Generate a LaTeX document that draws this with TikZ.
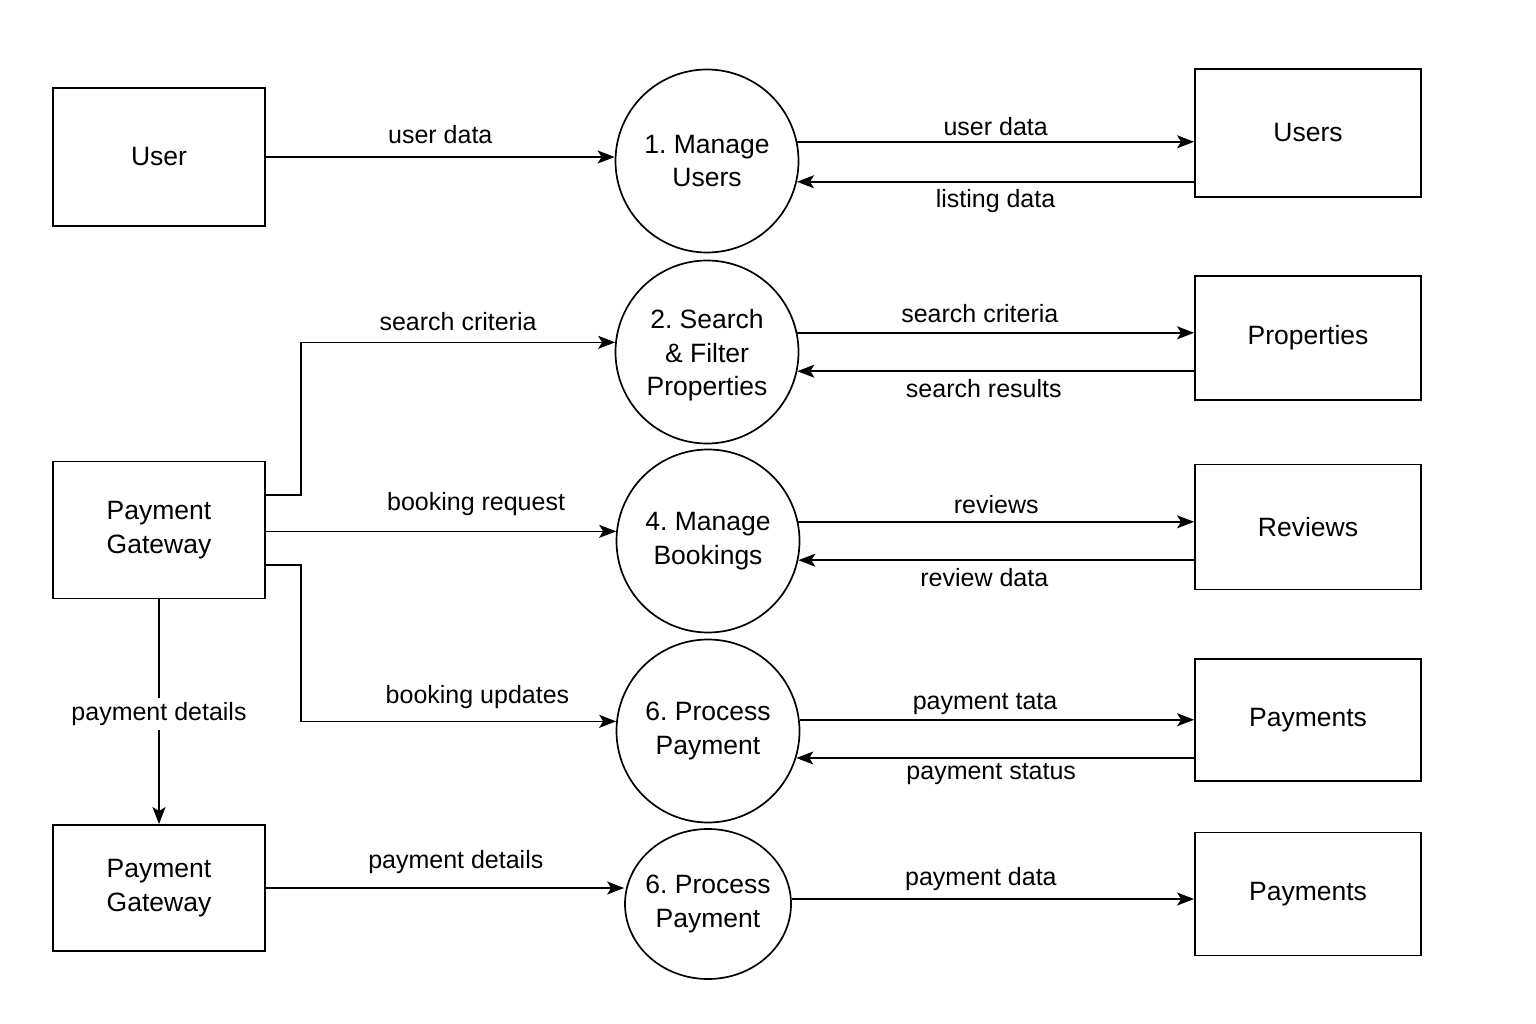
\documentclass[tikz,border=0pt]{standalone}
\usepackage{fontspec}
\setmainfont{Liberation Sans}
\frenchspacing
\usetikzlibrary{arrows.meta,calc,shapes.geometric}
\tikzset{
  box/.style={draw, line width=1.9pt, minimum width=#1, inner sep=0pt, align=center, font=\fontsize{26.5}{33.5}\selectfont},
  proc/.style={draw, circle, line width=1.7pt, minimum size=183pt, inner sep=0pt, align=center, font=\fontsize{26.5}{33.5}\selectfont},
  ell/.style={draw, ellipse, line width=1.7pt, minimum width=166pt, minimum height=150pt, inner sep=0pt},
  arr/.style={line width=1.5pt, -{Stealth[length=17pt,width=13pt,inset=4pt]}},
  lbl/.style={font=\fontsize{25}{30}\selectfont, inner sep=1pt}
}
\begin{document}
\begin{tikzpicture}[x=1pt,y=-1pt]
\useasboundingbox (0,0) rectangle (1536,1024);
% left boxes
\node[box=212pt, minimum height=138pt] (user) at (159,157) {User};
\node[box=212pt, minimum height=137pt] (pg1) at (159,530) {Payment\\Gateway};
\node[box=212pt, minimum height=126pt] (pg2) at (159,888) {Payment\\Gateway};
% processes
\node[proc] (c1) at (707,161) {1. Manage\\Users};
\node[proc] (c2) at (707,352) {\\[-8pt]2. Search\\\& Filter\\Properties};
\node[proc] (c4) at (708,541) {4. Manage\\Bookings};
\node[proc] (c6) at (708,731) {6. Process\\Payment};
\node[ell, label={[align=center, inner sep=0pt, font=\fontsize{26.5}{33.5}\selectfont]center:6. Process\\Payment}] (c7) at (708,904) {};
% right stores
\node[box=226pt, minimum height=128pt] (users) at (1308,133) {Users};
\node[box=226pt, minimum height=124pt] (props) at (1308,338) {Properties};
\node[box=226pt, minimum height=125pt] (revs) at (1308,527) {Reviews};
\node[box=226pt, minimum height=122pt] (pays) at (1308,720) {Payments};
\node[box=226pt, minimum height=123pt] (pays2) at (1308,894) {Payments};
% left flows
\draw[arr] (user.east) -- (user.east -| c1.west) node[lbl, pos=0.5, yshift=22pt] {user data};
\draw[arr] ([yshift=35pt]pg1.east) -- ++(35,0) |- (c2.174) node[lbl, pos=0.75, yshift=21pt] {search criteria};
\draw[arr] (c4.174 -| pg1.east) -- (c4.174) node[lbl, pos=0.6, yshift=27pt] {booking request};
\draw[arr] ([yshift=-35pt]pg1.east) -- ++(35,0) |- (c6.174) node[lbl, pos=0.78, yshift=24pt] {booking updates};
\draw[arr] (pg1.south) -- (pg2.north) node[lbl, pos=0.51, fill=white, inner sep=4pt] {payment details};
\draw[arr] (pg2.east) -- (pg2.east -| c7.west) node[lbl, pos=0.53, yshift=26pt] {payment details};
% right flows
\draw[arr] (c1.12.7) -- (c1.12.7 -| users.west) node[lbl, pos=0.5, yshift=15pt] {user data};
\draw[arr] (c1.-13.3 -| users.west) -- (c1.-13.3) node[lbl, pos=0.5, yshift=-19pt] {listing data};
\draw[arr] (c2.12) -- (c2.12 -| props.west) node[lbl, pos=0.46, yshift=19pt] {search criteria};
\draw[arr] (c2.-12.7 -| props.west) -- (c2.-12.7) node[lbl, pos=0.53, yshift=-17pt] {search results};
\draw[arr] (c4.12) -- (c4.12 -| revs.west) node[lbl, pos=0.5, yshift=17pt] {reviews};
\draw[arr] (c4.-12.7 -| revs.west) -- (c4.-12.7) node[lbl, pos=0.53, yshift=-17pt] {review data};
\draw[arr] (c6.7.5) -- (c6.7.5 -| pays.west) node[lbl, pos=0.47, yshift=16pt] {payment tata};
\draw[arr] (c6.-17 -| pays.west) -- (c6.-17) node[lbl, pos=0.51, yshift=-16pt] {payment status};
\draw[arr] ([yshift=5pt]c7.east) -- ([yshift=5pt]c7.east -| pays2.west) node[lbl, pos=0.47, yshift=20pt] {payment data};
\end{tikzpicture}
\end{document}
